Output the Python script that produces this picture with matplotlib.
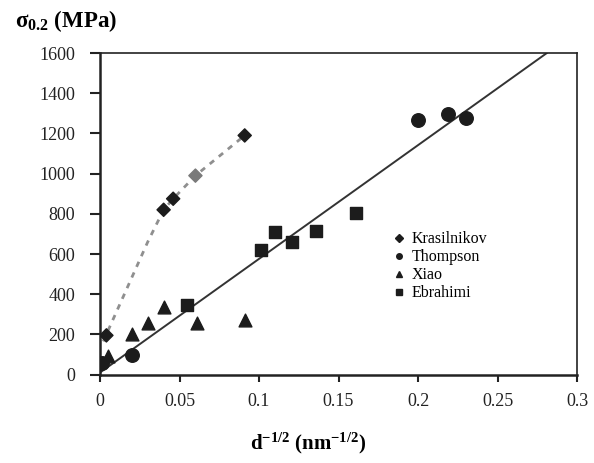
import numpy as np
import matplotlib.pyplot as plt
from matplotlib.lines import Line2D

plt.rcParams['font.family'] = 'Liberation Serif'
plt.rcParams['mathtext.fontset'] = 'custom'
plt.rcParams['mathtext.rm'] = 'Liberation Serif'
plt.rcParams['mathtext.bf'] = 'Liberation Serif:bold'
plt.rcParams['mathtext.it'] = 'Liberation Serif:italic'

# data
kras_x = [0.004, 0.040, 0.046, 0.060, 0.091]
kras_y = [195, 820, 875, 990, 1190]
thom_x = [0.001, 0.020, 0.200, 0.219, 0.230]
thom_y = [58, 98, 1268, 1298, 1278]
xiao_x = [0.005, 0.020, 0.030, 0.040, 0.061, 0.091]
xiao_y = [92, 202, 255, 335, 258, 273]
ebra_x = [0.055, 0.101, 0.110, 0.121, 0.136, 0.161]
ebra_y = [345, 618, 708, 660, 712, 805]
fit_x = [0.0, 0.281]
fit_y = [10, 1600]
kras_line_x = [0.002, 0.030, 0.040, 0.046, 0.060, 0.091]
kras_line_y = [165, 660, 820, 875, 990, 1190]

fig = plt.figure(figsize=(5.94, 4.63), dpi=100)
ax = fig.add_axes([0.1684, 0.191, 0.803, 0.6944])

dark = '#1c1c1c'
ax.plot(fit_x, fit_y, color='#333333', lw=1.4, zorder=2)
ax.plot(kras_line_x, kras_line_y, color='#8f8f8f', lw=2, ls=(0, (2, 2.2)), zorder=2)

ax.scatter(kras_x, kras_y, marker='D', s=45, color=[dark, dark, dark, '#7a7a7a', dark], zorder=3)
ax.scatter(thom_x, thom_y, marker='o', s=95, color=dark, zorder=3)
ax.scatter(xiao_x, xiao_y, marker='^', s=85, color=dark, zorder=3)
ax.scatter(ebra_x, ebra_y, marker='s', s=85, color=dark, zorder=3)

ax.set_xlim(0, 0.3)
ax.set_ylim(0, 1600)
ax.set_xticks(np.arange(0, 0.31, 0.05))
ax.set_xticklabels(['0', '0.05', '0.1', '0.15', '0.2', '0.25', '0.3'])
ax.set_yticks(np.arange(0, 1601, 200))
ax.tick_params(direction='out', width=1.5, labelsize=13, colors='#222222')
ax.tick_params(axis='y', length=7, pad=11)
ax.tick_params(axis='x', length=5, pad=8)
for side in ['left', 'bottom']:
    ax.spines[side].set_linewidth(1.8)
for side in ['top', 'right']:
    ax.spines[side].set_linewidth(1.2)
for sp in ax.spines.values():
    sp.set_color('#222222')

handles = [
    Line2D([], [], ls='none', marker='D', ms=4.5, color=dark),
    Line2D([], [], ls='none', marker='o', ms=4, color=dark),
    Line2D([], [], ls='none', marker='^', ms=4.5, color=dark),
    Line2D([], [], ls='none', marker='s', ms=4, color=dark),
]
ax.legend(handles, ['Krasilnikov', 'Thompson', 'Xiao', 'Ebrahimi'], loc='upper left',
          bbox_to_anchor=(0.6, 0.47), frameon=False, fontsize=11.5, handlelength=0.6,
          handletextpad=0.5, labelspacing=0.12, borderpad=0)

fig.text(0.025, 0.955, r'$\mathbf{\sigma_{0.2}}$ (MPa)', fontsize=16.5, fontweight='bold',
         ha='left', va='center')
fig.text(0.518, 0.043, r'$\mathbf{d^{-1/2}}$ (nm$\mathbf{^{-1/2}}$)', fontsize=15,
         fontweight='bold', ha='center', va='center')

fig.savefig('out.png', dpi=100)
